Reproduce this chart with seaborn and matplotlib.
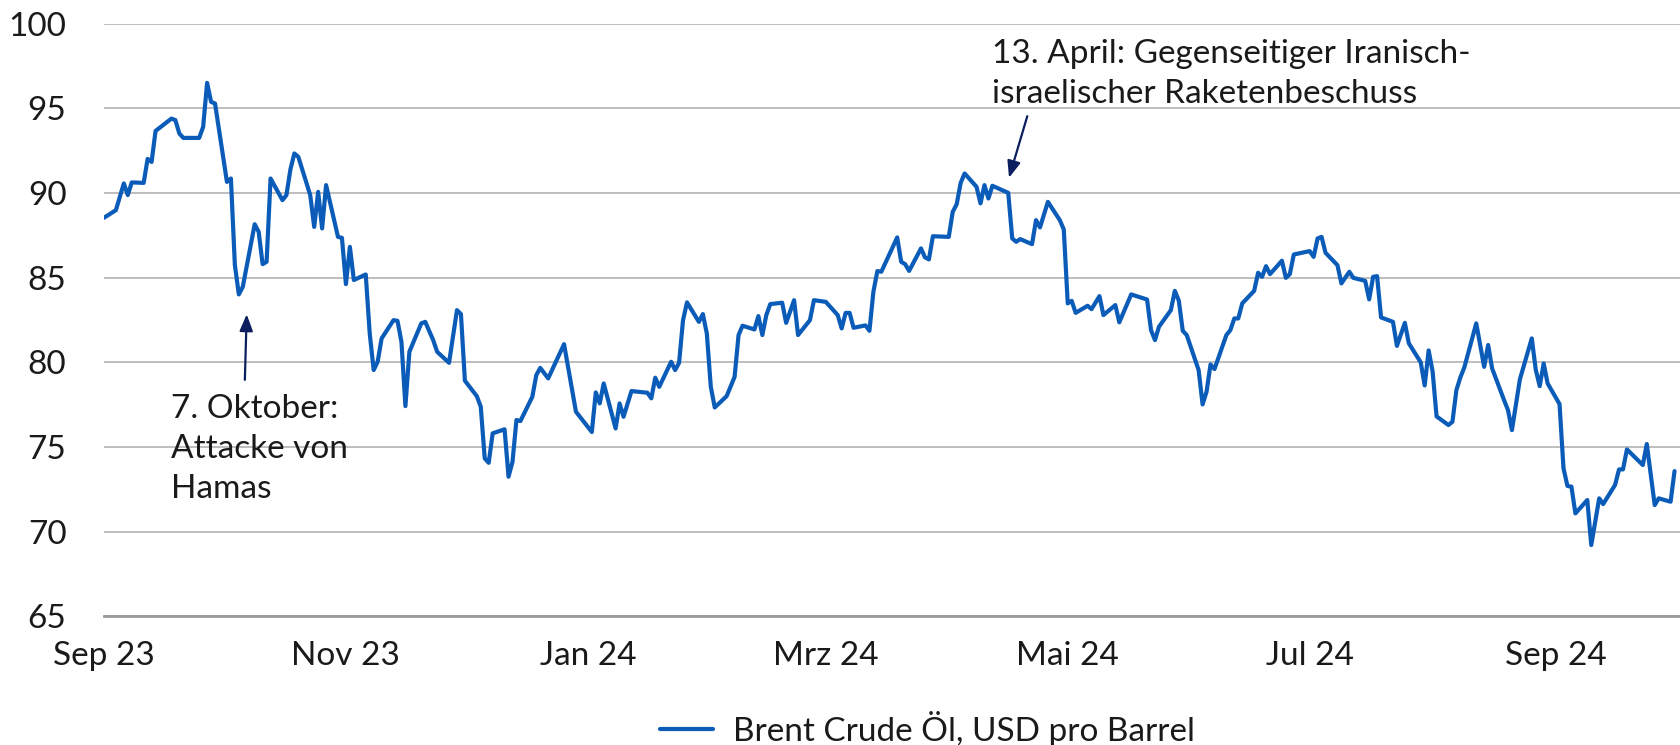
import pandas as pd
import numpy as np
import seaborn as sns
import matplotlib
matplotlib.use('Agg')
import matplotlib.pyplot as plt
import matplotlib.dates as mdates

# Brent (trading days, USD per barrel)
dates = [
    '2023-09-01', '2023-09-04', '2023-09-06', '2023-09-07', '2023-09-08', '2023-09-11', '2023-09-12',
    '2023-09-13', '2023-09-14', '2023-09-18', '2023-09-19', '2023-09-20', '2023-09-21', '2023-09-25',
    '2023-09-26', '2023-09-27', '2023-09-28', '2023-09-29', '2023-10-02', '2023-10-03', '2023-10-04',
    '2023-10-05', '2023-10-06', '2023-10-09', '2023-10-10', '2023-10-11', '2023-10-12', '2023-10-13',
    '2023-10-16', '2023-10-17', '2023-10-18', '2023-10-19', '2023-10-20', '2023-10-23', '2023-10-24',
    '2023-10-25', '2023-10-26', '2023-10-27', '2023-10-30', '2023-10-31', '2023-11-01', '2023-11-02',
    '2023-11-03', '2023-11-06', '2023-11-07', '2023-11-08', '2023-11-09', '2023-11-10', '2023-11-13',
    '2023-11-14', '2023-11-15', '2023-11-16', '2023-11-17', '2023-11-20', '2023-11-21', '2023-11-23',
    '2023-11-24', '2023-11-27', '2023-11-29', '2023-11-30', '2023-12-01', '2023-12-04', '2023-12-05',
    '2023-12-06', '2023-12-07', '2023-12-08', '2023-12-11', '2023-12-12', '2023-12-13', '2023-12-14',
    '2023-12-15', '2023-12-18', '2023-12-19', '2023-12-20', '2023-12-22', '2023-12-26', '2023-12-29',
    '2024-01-02', '2024-01-03', '2024-01-04', '2024-01-05', '2024-01-08', '2024-01-09', '2024-01-10',
    '2024-01-12', '2024-01-16', '2024-01-17', '2024-01-18', '2024-01-19', '2024-01-22', '2024-01-23',
    '2024-01-24', '2024-01-25', '2024-01-26', '2024-01-29', '2024-01-30', '2024-01-31', '2024-02-01',
    '2024-02-02', '2024-02-05', '2024-02-07', '2024-02-08', '2024-02-09', '2024-02-12', '2024-02-13',
    '2024-02-14', '2024-02-15', '2024-02-16', '2024-02-19', '2024-02-20', '2024-02-22', '2024-02-23',
    '2024-02-26', '2024-02-27', '2024-03-01', '2024-03-04', '2024-03-05', '2024-03-06', '2024-03-07',
    '2024-03-08', '2024-03-11', '2024-03-12', '2024-03-13', '2024-03-14', '2024-03-15', '2024-03-19',
    '2024-03-20', '2024-03-21', '2024-03-22', '2024-03-25', '2024-03-26', '2024-03-27', '2024-03-28',
    '2024-04-01', '2024-04-02', '2024-04-03', '2024-04-04', '2024-04-05', '2024-04-08', '2024-04-09',
    '2024-04-10', '2024-04-11', '2024-04-12', '2024-04-16', '2024-04-17', '2024-04-18', '2024-04-19',
    '2024-04-22', '2024-04-23', '2024-04-24', '2024-04-26', '2024-04-29', '2024-04-30', '2024-05-01',
    '2024-05-02', '2024-05-03', '2024-05-06', '2024-05-07', '2024-05-09', '2024-05-10', '2024-05-13',
    '2024-05-14', '2024-05-17', '2024-05-21', '2024-05-22', '2024-05-23', '2024-05-24', '2024-05-27',
    '2024-05-28', '2024-05-29', '2024-05-30', '2024-05-31', '2024-06-03', '2024-06-04', '2024-06-05',
    '2024-06-06', '2024-06-07', '2024-06-10', '2024-06-11', '2024-06-12', '2024-06-13', '2024-06-14',
    '2024-06-17', '2024-06-18', '2024-06-19', '2024-06-20', '2024-06-21', '2024-06-24', '2024-06-25',
    '2024-06-26', '2024-06-27', '2024-07-01', '2024-07-02', '2024-07-03', '2024-07-04', '2024-07-05',
    '2024-07-08', '2024-07-09', '2024-07-11', '2024-07-12', '2024-07-15', '2024-07-16', '2024-07-17',
    '2024-07-18', '2024-07-19', '2024-07-22', '2024-07-23', '2024-07-25', '2024-07-26', '2024-07-29',
    '2024-07-30', '2024-07-31', '2024-08-01', '2024-08-02', '2024-08-05', '2024-08-06', '2024-08-07',
    '2024-08-08', '2024-08-09', '2024-08-12', '2024-08-14', '2024-08-15', '2024-08-16', '2024-08-19',
    '2024-08-20', '2024-08-21', '2024-08-23', '2024-08-26', '2024-08-27', '2024-08-28', '2024-08-29',
    '2024-08-30', '2024-09-02', '2024-09-03', '2024-09-04', '2024-09-05', '2024-09-06', '2024-09-09',
    '2024-09-10', '2024-09-12', '2024-09-13', '2024-09-16', '2024-09-17', '2024-09-18', '2024-09-19',
    '2024-09-23', '2024-09-24', '2024-09-26', '2024-09-27', '2024-09-30', '2024-10-01',
]
brent = [
    88.54, 88.99, 90.57, 89.88, 90.63, 90.60, 92.02,
    91.84, 93.67, 94.40, 94.31, 93.52, 93.26, 93.26,
    93.91, 96.51, 95.39, 95.29, 90.66, 90.86, 85.74,
    84.01, 84.46, 88.16, 87.71, 85.80, 85.94, 90.86,
    89.58, 89.88, 91.39, 92.34, 92.14, 89.88, 88.00,
    90.07, 87.91, 90.47, 87.41, 87.35, 84.62, 86.82,
    84.86, 85.19, 81.70, 79.54, 80.03, 81.41, 82.49,
    82.45, 81.21, 77.41, 80.62, 82.30, 82.39, 81.31,
    80.62, 79.97, 83.08, 82.85, 78.91, 78.00, 77.37,
    74.32, 74.06, 75.80, 76.04, 73.24, 74.12, 76.59,
    76.53, 77.96, 79.24, 79.67, 79.05, 81.07, 77.08,
    75.88, 78.22, 77.57, 78.75, 76.09, 77.57, 76.78,
    78.30, 78.20, 77.87, 79.09, 78.55, 80.03, 79.54,
    79.97, 82.49, 83.54, 82.39, 82.85, 81.70, 78.55,
    77.33, 78.00, 79.14, 81.61, 82.16, 81.94, 82.73,
    81.61, 82.79, 83.44, 83.52, 82.33, 83.67, 81.61,
    82.49, 83.67, 83.57, 82.79, 82.00, 82.92, 82.92,
    82.04, 82.18, 81.86, 84.17, 85.39, 85.35, 87.38,
    85.94, 85.80, 85.40, 86.73, 86.20, 86.08, 87.45,
    87.41, 88.89, 89.34, 90.60, 91.16, 90.37, 89.39,
    90.47, 89.68, 90.43, 90.01, 87.32, 87.12, 87.28,
    86.98, 88.40, 87.97, 89.48, 88.40, 87.85, 83.48,
    83.63, 82.92, 83.34, 83.14, 83.91, 82.79, 83.38,
    82.36, 84.01, 83.71, 81.90, 81.31, 82.10, 83.08,
    84.22, 83.65, 81.86, 81.61, 79.54, 77.51, 78.26,
    79.87, 79.60, 81.61, 81.90, 82.59, 82.59, 83.48,
    84.22, 85.29, 85.05, 85.68, 85.21, 86.00, 84.99,
    85.21, 86.37, 86.57, 86.23, 87.32, 87.41, 86.47,
    85.74, 84.66, 85.35, 84.99, 84.81, 83.72, 85.05,
    85.09, 82.65, 82.39, 80.97, 82.33, 81.12, 80.00,
    78.63, 80.70, 79.45, 76.80, 76.29, 76.49, 78.36,
    79.11, 79.70, 82.30, 79.73, 81.02, 79.64, 77.77,
    77.18, 75.99, 78.99, 81.41, 79.57, 78.59, 79.93,
    78.75, 77.53, 73.73, 72.69, 72.65, 71.07, 71.86,
    69.20, 71.96, 71.62, 72.75, 73.67, 73.67, 74.85,
    73.93, 75.17, 71.56, 71.96, 71.76, 73.57,
]

tick_dates = ['2023-09-01', '2023-11-01', '2024-01-01', '2024-03-01', '2024-05-01', '2024-07-01', '2024-09-01']
tick_labels = ['Sep 23', 'Nov 23', 'Jan 24', 'Mrz 24', 'Mai 24', 'Jul 24', 'Sep 24']
y_ticks = [65, 70, 75, 80, 85, 90, 95, 100]
series_name = 'Brent Crude Öl, USD pro Barrel'

df = pd.DataFrame({'date': pd.to_datetime(dates), 'value': brent})
df['series'] = series_name

sns.set_style('white')
plt.rcParams['font.family'] = ['Lato', 'DejaVu Sans']
plt.rcParams['font.weight'] = 'normal'

line_blue = '#0a5cb8'
navy = '#0b1f5e'
txt = '#1a1a1a'

fig = plt.figure(figsize=(16.8, 7.45), dpi=100)
ax = fig.add_axes([0.0619, 0.173, 0.9381, 0.795])

sns.lineplot(data=df, x='date', y='value', hue='series', palette=[line_blue],
             linewidth=3.0, ax=ax, legend=True)

ax.set_ylim(65, 100)
ax.set_xlim(pd.Timestamp('2023-09-01'), pd.Timestamp('2024-10-02 09:00'))
ax.set_yticks(y_ticks)
ax.set_xticks(pd.to_datetime(tick_dates))
ax.set_xticklabels(tick_labels)
ax.tick_params(axis='both', length=0, labelsize=24, colors=txt)
ax.tick_params(axis='y', pad=27)
ax.tick_params(axis='x', pad=18)
ax.set_xlabel('')
ax.set_ylabel('')

ax.grid(axis='y', color='#b3b3b3', linewidth=1.2)
ax.set_axisbelow(True)
for s in ['top', 'right', 'left']:
    ax.spines[s].set_visible(False)
ax.spines['bottom'].set_color('#999999')
ax.spines['bottom'].set_linewidth(2.0)

# annotations
ax.annotate('', xy=(pd.Timestamp('2023-10-07'), 83.0), xytext=(pd.Timestamp('2023-10-06 12:00'), 78.8),
            arrowprops=dict(arrowstyle='-|>,head_length=1.0,head_width=0.4', color=navy, lw=1.6))
ax.text(pd.Timestamp('2023-09-18'), 78.1, '7. Oktober:\nAttacke von\nHamas', fontsize=24,
        color=txt, va='top', ha='left', linespacing=1.4)

ax.annotate('', xy=(pd.Timestamp('2024-04-16'), 90.75), xytext=(pd.Timestamp('2024-04-21'), 94.7),
            arrowprops=dict(arrowstyle='-|>,head_length=1.0,head_width=0.4', color=navy, lw=1.6))
ax.text(pd.Timestamp('2024-04-12'), 99.1, '13. April: Gegenseitiger Iranisch-\nisraelischer Raketenbeschuss',
        fontsize=24, color=txt, va='top', ha='left', linespacing=1.4)

leg = ax.legend(loc='center', bbox_to_anchor=(0.552, 0.022), bbox_transform=fig.transFigure,
                frameon=False, fontsize=24, handlelength=1.6, handletextpad=0.6)
for t in leg.get_texts():
    t.set_color(txt)

fig.savefig('out.png', dpi=100)
